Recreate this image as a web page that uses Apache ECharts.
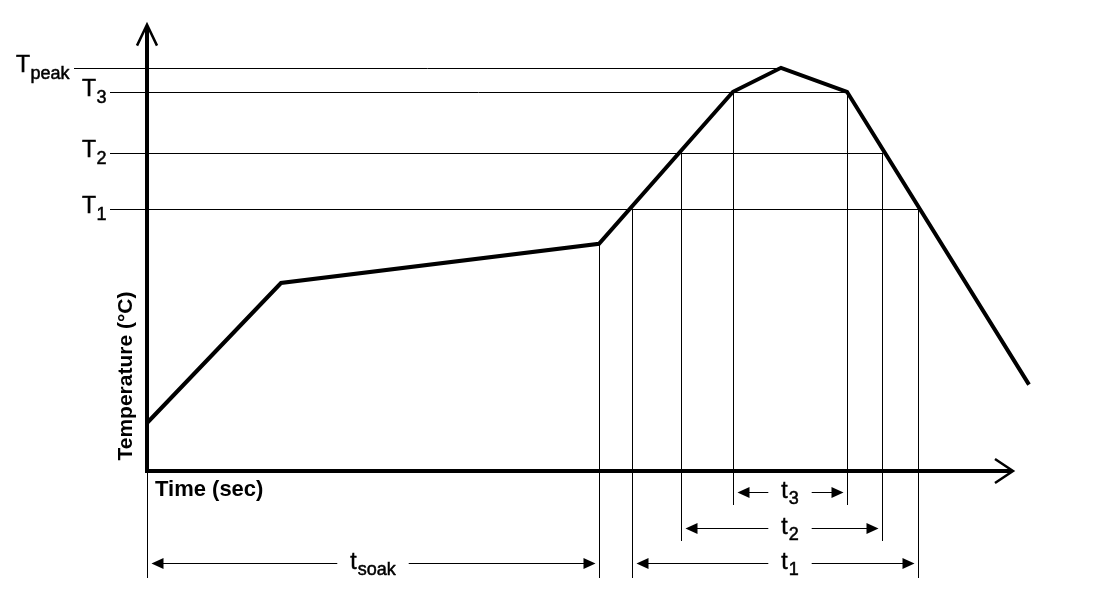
<!DOCTYPE html>
<html><head><meta charset="utf-8">
<script src="https://cdn.jsdelivr.net/npm/echarts@6/dist/echarts.min.js"></script>
<style>html,body{margin:0;padding:0;background:#fff}#c{width:1103px;height:596px}</style>
</head><body><div id="c"></div>
<script>
// ---- Reflow profile (time in s, temperature in °C) ----
const profileTime = [0, 67, 226, 293, 317, 350, 441];
const profileTemp = [30, 117.5, 142, 237, 252, 237, 54];

// ---- Temperature levels ----
const levelNames = ['peak', '3', '2', '1'];
const levelTemps = [252, 237, 199, 164];
const levelEndTimes = [317, 350, 367.5, 385.5];

// ---- Time spans ----
const spanNames = ['soak', '1', '2', '3'];
const spanStart = [0, 242.5, 267, 293];
const spanEnd = [226, 385.5, 367.5, 350];
const spanStartTemp = [0, 164, 199, 237];
const spanEndTemp = [142, 164, 199, 237];
const spanRow = [2, 2, 1, 0];

const xAxisName = 'Time (sec)';
const yAxisName = 'Temperature (°C)';
const xAxisEnd = 433;
const yAxisTop = 279;

const FONT = '"Liberation Sans", Arial, Helvetica, sans-serif';
const mctx = document.createElement('canvas').getContext('2d');
function measure(str, size, bold) {
  mctx.font = (bold ? 'bold ' : '') + size + 'px ' + FONT;
  return mctx.measureText(str).width;
}
function text(str, x, y, size, bold, align, rotation) {
  const a = align || 'left';
  const st = {
    text: str, x: 0, y: 0, fill: '#000',
    font: (bold ? 'bold ' : '') + size + 'px ' + FONT,
    align: a, textAlign: a, verticalAlign: 'middle', textVerticalAlign: 'middle'
  };
  if (!bold) { st.stroke = '#000'; st.lineWidth = 0.5; }
  return { type: 'text', x: x, y: y, rotation: rotation || 0, style: st };
}
function seg(x1, y1, x2, y2, w) {
  return { type: 'line', shape: { x1: x1, y1: y1, x2: x2, y2: y2 }, style: { stroke: '#000', lineWidth: w || 1, lineCap: 'butt' } };
}
function poly(points, fill, w) {
  return fill
    ? { type: 'polygon', shape: { points: points }, style: { fill: '#000' } }
    : { type: 'polyline', shape: { points: points }, style: { stroke: '#000', fill: null, lineWidth: w, lineJoin: 'miter' } };
}

const rowY = [21, 57, 92];
const rowBottom = [34, 70, 107];

function renderItem(params, api) {
  const c = (t, T) => api.coord([t, T]);
  const o = c(0, 0);
  const ox = o[0], oy = o[1];
  const px = v => Math.round(v) + 0.5;
  const ch = [];

  // level lines and labels
  levelTemps.forEach((T, i) => {
    const y = px(c(0, T)[1]);
    const xEnd = c(levelEndTimes[i], T)[0];
    const lead = i === 0 ? 73 : 37;
    ch.push(seg(ox - lead, y, xEnd, y, 1));
    const labX = i === 0 ? ox - 131 : ox - 65;
    ch.push(text('T', labX, y - 2.5, 23));
    ch.push(text(levelNames[i], labX + 14.5, y + 5.5, 18));
  });

  // spans
  const innerMid = (spanStart[3] + spanEnd[3]) / 2;
  spanStart.forEach((s, i) => {
    const e = spanEnd[i];
    const xs = px(c(s, 0)[0]), xe = px(c(e, 0)[0]);
    const bottom = oy + rowBottom[spanRow[i]];
    ch.push(seg(xs, c(s, spanStartTemp[i])[1], xs, bottom, 1));
    ch.push(seg(xe, c(e, spanEndTemp[i])[1], xe, bottom, 1));
    const y = px(oy + rowY[spanRow[i]]);
    const cx = c(spanNames[i] === 'soak' ? (s + e) / 2 : innerMid, 0)[0];
    const tw = measure('t', 23);
    const sw = measure(spanNames[i], 18);
    const w = tw + 1 + sw;
    const left = cx - w / 2;
    ch.push(text('t', left, y - 0.5, 23));
    ch.push(text(spanNames[i], left + tw + 1, y + 6.5, 18));
    const gap = w / 2 + 13;
    const a1 = xs + 4, a2 = xe - 4;
    ch.push(seg(a1 + 10, y, cx - gap, y, 1));
    ch.push(seg(cx + gap, y, a2 - 10, y, 1));
    ch.push(poly([[a1, y], [a1 + 12, y - 5.5], [a1 + 12, y + 5.5]], true));
    ch.push(poly([[a2, y], [a2 - 12, y - 5.5], [a2 - 12, y + 5.5]], true));
  });

  // axes
  const yTop = c(0, yAxisTop)[1];
  const xEndPx = c(xAxisEnd, 0)[0];
  ch.push(seg(ox, oy + 2, ox, yTop + 2, 4));
  ch.push(seg(ox - 2, oy, xEndPx - 2, oy, 4));
  ch.push(poly([[ox - 10, yTop + 21], [ox, yTop], [ox + 10, yTop + 21]], false, 2.5));
  ch.push(poly([[xEndPx - 18, oy - 12], [xEndPx, oy], [xEndPx - 18, oy + 12]], false, 2.5));

  // axis names
  ch.push(text(xAxisName, ox + 8, oy + 18.5, 22, true));
  ch.push(text(yAxisName, ox - 20.3, oy - 95, 21, true, 'center', Math.PI / 2));

  return { type: 'group', children: ch };
}

const chart = echarts.init(document.getElementById('c'), null, { renderer: 'canvas' });
chart.setOption({
  animation: false,
  backgroundColor: '#fff',
  grid: { left: 147, right: 56, top: 23, bottom: 125 },
  xAxis: { type: 'value', min: 0, max: 450, show: false },
  yAxis: { type: 'value', min: 0, max: 280, show: false },
  series: [
    {
      type: 'line',
      data: profileTime.map((t, i) => [t, profileTemp[i]]),
      symbol: 'none', showSymbol: false, silent: true, z: 3,
      lineStyle: { color: '#000', width: 4, join: 'miter', cap: 'butt' }
    },
    {
      type: 'custom', silent: true, z: 4, clip: false,
      data: [[0, 0]],
      renderItem: renderItem
    }
  ]
});
</script></body></html>
